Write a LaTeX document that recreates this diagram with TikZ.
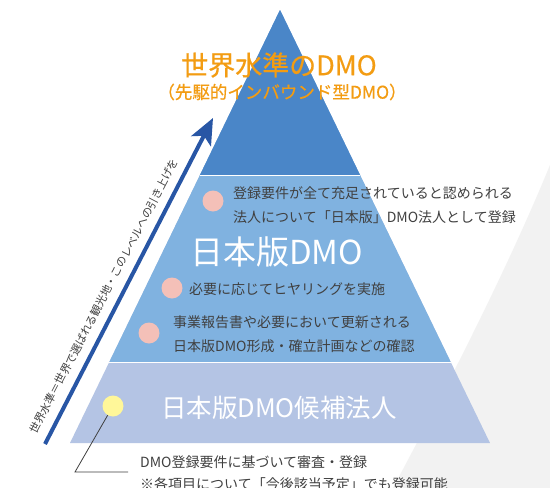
\documentclass[tikz,border=0pt]{standalone}
\usepackage{fontspec}
\setmainfont{Noto Sans CJK JP}
\newfontfamily\jpmed[FakeBold=0.5]{Noto Sans CJK JP}
\usepackage{xcolor}
\usetikzlibrary{arrows.meta,calc}
\definecolor{topblue}{RGB}{74,134,200}
\definecolor{midblue}{RGB}{128,178,224}
\definecolor{lowblue}{RGB}{180,196,228}
\definecolor{arrowblue}{RGB}{40,86,165}
\definecolor{titleorange}{RGB}{243,156,18}
\definecolor{textgray}{RGB}{64,64,64}
\definecolor{dotpink}{RGB}{244,192,184}
\definecolor{dotyellow}{RGB}{255,247,153}
\definecolor{bggray}{RGB}{242,242,242}

\begin{document}
\begin{tikzpicture}[x=1pt,y=-1pt,
  note/.style={anchor=west,text=textgray,font=\fontsize{14}{23.5}\selectfont,align=left,inner sep=0pt},
  dot/.style={circle,minimum size=21pt,inner sep=0pt},
  bandlabel/.style={anchor=west,text=white,inner sep=0pt}]
\clip (0,0) rectangle (550,488);
\fill [white] (0,0) rectangle (550,488);
\fill [bggray] (550,165) .. controls (505,275) and (440,400) .. (393,488)
-- (550,488) -- cycle;
% pyramid
\coordinate (apex) at (280,10);
\coordinate (bl) at (70,443);
\coordinate (br) at (490,443);
\fill [lowblue] (apex) -- (bl) -- (br) -- cycle;
\fill [midblue] (apex) -- ($(apex)!.813!(bl)$) -- ($(apex)!.813!(br)$) -- cycle;
\fill [topblue] (apex) -- ($(apex)!.381!(bl)$) -- ($(apex)!.381!(br)$) -- cycle;
\draw [white, line width=0.8pt] ($(apex)!.813!(bl)$) -- ($(apex)!.813!(br)$);
\draw [white, line width=0.8pt] ($(apex)!.381!(bl)$) -- ($(apex)!.381!(br)$);
% arrow and its text
\coordinate (tail) at (45,444);
\coordinate (tip) at (213,118);
\draw [arrowblue, line width=4pt, -{Stealth[length=26pt,width=22pt,inset=6pt]}] (tail) -- (tip);
\node [rotate=62.5, text=textgray, font=\fontsize{11}{11}\selectfont, inner sep=0pt]
(slogan) at (104,296) {世界水準＝世界で選ばれる観光地・このレベルへの引き上げを};
% titles
\node [text=titleorange, font=\jpmed\fontsize{27}{27}\selectfont] (title) at (279,65) {世界水準のDMO};
\node [text=titleorange, font=\jpmed\fontsize{17.5}{17.5}\selectfont] (subtitle) at (282,92)
{（先駆的インバウンド型DMO）};
% middle band
\node [dot, fill=dotpink] (d1) at (213,201) {};
\node [note] (n1) at (233,205) {登録要件が全て充足されていると認められる\\法人について「日本版」DMO法人として登録};
\node [bandlabel, font=\fontsize{33}{33}\selectfont] (jdmo) at (190,252) {日本版DMO};
\node [dot, fill=dotpink] (d2) at (172,288) {};
\node [note] (n2) at (189,289) {必要に応じてヒヤリングを実施};
\node [dot, fill=dotpink] (d3) at (149,333) {};
\node [note] (n3) at (173,334) {事業報告書や必要において更新される\\日本版DMO形成・確立計画などの確認};
% bottom band
\node [dot, fill=dotyellow] (d4) at (113,406) {};
\node [bandlabel, font=\fontsize{25.5}{25.5}\selectfont] (cand) at (161,408) {日本版DMO候補法人};
\coordinate (bend) at (75,472);
\coordinate (hook) at (128,472);
\draw [textgray, line width=0.8pt] (d4) -- (bend) -- (hook);
\node [note, font=\fontsize{14}{22}\selectfont] (n4) at (140,473)
{DMO登録要件に基づいて審査・登録\\※各項目について「今後該当予定」でも登録可能};
\end{tikzpicture}
\end{document}
